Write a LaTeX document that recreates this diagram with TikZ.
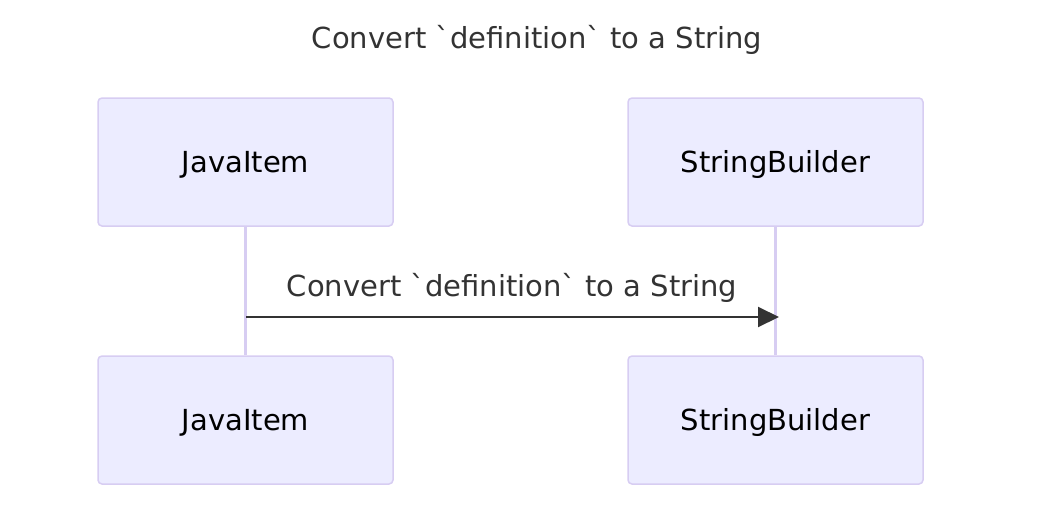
\documentclass[tikz,border=0pt]{standalone}
\usepackage{fontspec}
\setmainfont{DejaVu Sans}[Ligatures=TeXOff]
\usetikzlibrary{arrows.meta}
\definecolor{actfill}{HTML}{ECECFF}
\definecolor{actline}{HTML}{D7CDF2}
\definecolor{msgcol}{HTML}{333333}
\tikzset{
  txt/.style={font=\fontsize{29}{34}\selectfont, text height=21pt, text depth=0pt},
  actor/.style={txt, draw=actline, fill=actfill, line width=1.5pt, rounded corners=4pt,
    minimum width=295pt, minimum height=128pt, inner sep=0pt, text=black},
  lifeline/.style={draw=actline, line width=2.5pt},
  msg/.style={draw=msgcol, line width=2pt, -{Triangle[length=21pt,width=20pt]}},
  lbl/.style={txt, text=msgcol, inner sep=0pt}
}
\begin{document}
\begin{tikzpicture}[x=1pt,y=-1pt]
\useasboundingbox (0,0) rectangle (1038,514);
\node[lbl] (title) at (537,38) {Convert `definition` to a String};
\node[actor] (jt) at (245.5,162) {JavaItem};
\node[actor] (st) at (775.5,162) {StringBuilder};
\node[actor] (jb) at (245.5,420) {JavaItem};
\node[actor] (sb) at (775.5,420) {StringBuilder};
\draw[lifeline] (jt.south) -- (jb.north);
\draw[lifeline] (st.south) -- (sb.north);
\coordinate (a1) at (246,317);
\coordinate (a2) at (779,317);
\draw[msg] (a1) -- (a2);
\node[lbl] (ml) at (512,286) {Convert `definition` to a String};
\end{tikzpicture}
\end{document}
